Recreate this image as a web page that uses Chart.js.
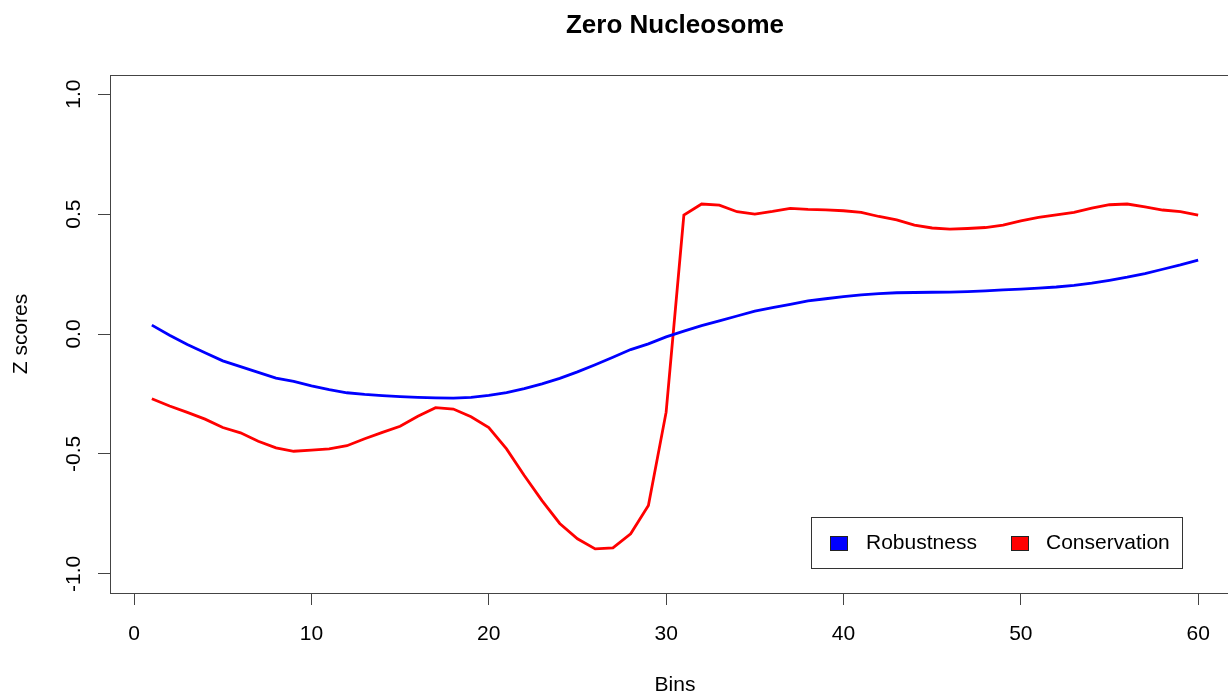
<!DOCTYPE html>
<html>
<head>
<meta charset="utf-8">
<title>Zero Nucleosome</title>
<script src="https://cdn.jsdelivr.net/npm/chart.js@4"></script>
<style>
  html, body { margin: 0; padding: 0; background: #fff; overflow: hidden; }
  #wrap { width: 1228px; height: 695px; overflow: hidden; }
</style>
</head>
<body>
<div id="wrap"><canvas id="chart" width="1300" height="695"></canvas></div>
<script>
// bins along the x axis
const bins = [
  1, 2, 3, 4, 5, 6, 7, 8, 9, 10,
  11, 12, 13, 14, 15, 16, 17, 18, 19, 20,
  21, 22, 23, 24, 25, 26, 27, 28, 29, 30,
  31, 32, 33, 34, 35, 36, 37, 38, 39, 40,
  41, 42, 43, 44, 45, 46, 47, 48, 49, 50,
  51, 52, 53, 54, 55, 56, 57, 58, 59, 60
];

// z scores per bin
const robustness = [
  0.037, -0.005, -0.044, -0.078, -0.112, -0.136, -0.160, -0.184, -0.198, -0.216,
  -0.232, -0.245, -0.252, -0.257, -0.261, -0.264, -0.266, -0.267, -0.264, -0.256,
  -0.244, -0.228, -0.208, -0.185, -0.158, -0.128, -0.097, -0.065, -0.041, -0.012,
  0.012, 0.035, 0.055, 0.075, 0.095, 0.110, 0.124, 0.138, 0.147, 0.156,
  0.163, 0.168, 0.172, 0.173, 0.174, 0.175, 0.177, 0.180, 0.184, 0.187,
  0.191, 0.196, 0.203, 0.212, 0.224, 0.237, 0.252, 0.270, 0.288, 0.308
];

const conservation = [
  -0.270, -0.300, -0.327, -0.355, -0.390, -0.412, -0.447, -0.475, -0.489, -0.484,
  -0.479, -0.466, -0.437, -0.410, -0.385, -0.343, -0.307, -0.313, -0.345, -0.390,
  -0.479, -0.590, -0.695, -0.790, -0.854, -0.896, -0.892, -0.833, -0.715, -0.326,
  0.496, 0.542, 0.537, 0.510, 0.500, 0.511, 0.524, 0.520, 0.518, 0.514,
  0.507, 0.490, 0.476, 0.454, 0.442, 0.437, 0.440, 0.444, 0.454, 0.472,
  0.486, 0.497, 0.507, 0.525, 0.539, 0.542, 0.530, 0.517, 0.510, 0.496
];

const xTicks = [0, 10, 20, 30, 40, 50, 60];
const yTicks = [-1.0, -0.5, 0.0, 0.5, 1.0];

const FONT = "'Liberation Sans', Arial, Helvetica, sans-serif";
const FONT_SIZE = 21;
const AXIS_COL = '#444';

// box, title, rotated y labels and the legend, drawn the way base R does it
const framePlugin = {
  id: 'frame',
  afterDraw(chart) {
    const { ctx, chartArea: a, scales } = chart;
    ctx.save();

    ctx.strokeStyle = AXIS_COL;
    ctx.lineWidth = 1;
    ctx.strokeRect(a.left + 0.5, a.top + 0.5, a.right - a.left, a.bottom - a.top);

    ctx.fillStyle = '#000';
    ctx.textAlign = 'center';
    ctx.textBaseline = 'middle';
    ctx.font = 'bold 26px ' + FONT;
    ctx.fillText('Zero Nucleosome', (a.left + a.right) / 2, 26);

    ctx.font = FONT_SIZE + 'px ' + FONT;
    scales.y.ticks.forEach(t => {
      const py = scales.y.getPixelForValue(t.value);
      ctx.save();
      ctx.translate(74, py);
      ctx.rotate(-Math.PI / 2);
      ctx.fillText(t.value.toFixed(1), 0, 0);
      ctx.restore();
    });

    // legend, bottom right
    const lx = a.right - 429, ly = a.bottom - 76, lw = 371, lh = 51;
    ctx.fillStyle = '#fff';
    ctx.fillRect(lx, ly, lw, lh);
    ctx.strokeStyle = '#333';
    ctx.strokeRect(lx + 0.5, ly + 0.5, lw, lh);
    const offsets = [[19, 55], [200, 235]];
    chart.data.datasets.forEach((ds, i) => {
      const [sq, tx] = offsets[i];
      ctx.fillStyle = ds.borderColor;
      ctx.fillRect(lx + sq, ly + 19, 17, 14);
      ctx.strokeStyle = '#222';
      ctx.strokeRect(lx + sq + 0.5, ly + 19.5, 17, 14);
      ctx.fillStyle = '#000';
      ctx.textAlign = 'left';
      ctx.textBaseline = 'middle';
      ctx.fillText(ds.label, lx + tx, ly + 26);
    });

    ctx.restore();
  }
};

const toPoints = ys => bins.map((b, i) => ({ x: b, y: ys[i] }));

new Chart(document.getElementById('chart'), {
  type: 'line',
  data: {
    datasets: [
      {
        label: 'Robustness',
        data: toPoints(robustness),
        borderColor: '#0000ff',
        borderWidth: 2.8,
        pointRadius: 0,
        tension: 0,
        fill: false
      },
      {
        label: 'Conservation',
        data: toPoints(conservation),
        borderColor: '#ff0000',
        borderWidth: 2.8,
        pointRadius: 0,
        tension: 0,
        fill: false
      }
    ]
  },
  options: {
    responsive: false,
    animation: false,
    layout: { padding: { top: 75, right: 60, left: 0, bottom: 0 } },
    plugins: {
      legend: { display: false },
      tooltip: { enabled: false },
      title: { display: false }
    },
    scales: {
      x: {
        type: 'linear',
        min: -1.36,
        max: 62.36,
        afterBuildTicks: s => { s.ticks = xTicks.map(v => ({ value: v })); },
        afterFit: s => { s.height = 102; },
        grid: { drawOnChartArea: false, drawTicks: true, tickLength: 12, color: AXIS_COL },
        border: { display: false },
        ticks: {
          color: '#000',
          font: { family: FONT, size: FONT_SIZE },
          padding: 17,
          maxRotation: 0,
          autoSkip: false
        },
        title: {
          display: true,
          text: 'Bins',
          color: '#000',
          font: { family: FONT, size: FONT_SIZE, lineHeight: 0.9 },
          padding: { top: 0, bottom: 0 }
        }
      },
      y: {
        type: 'linear',
        min: -1.08,
        max: 1.08,
        afterBuildTicks: s => { s.ticks = yTicks.map(v => ({ value: v })); },
        afterFit: s => { s.width = 110; },
        grid: { drawOnChartArea: false, drawTicks: true, tickLength: 12, color: AXIS_COL },
        border: { display: false },
        ticks: { display: false },
        title: {
          display: true,
          text: 'Z scores',
          color: '#000',
          font: { family: FONT, size: FONT_SIZE, lineHeight: 1 },
          padding: { top: 11, bottom: 0 }
        }
      }
    }
  },
  plugins: [framePlugin]
});
</script>
</body>
</html>
